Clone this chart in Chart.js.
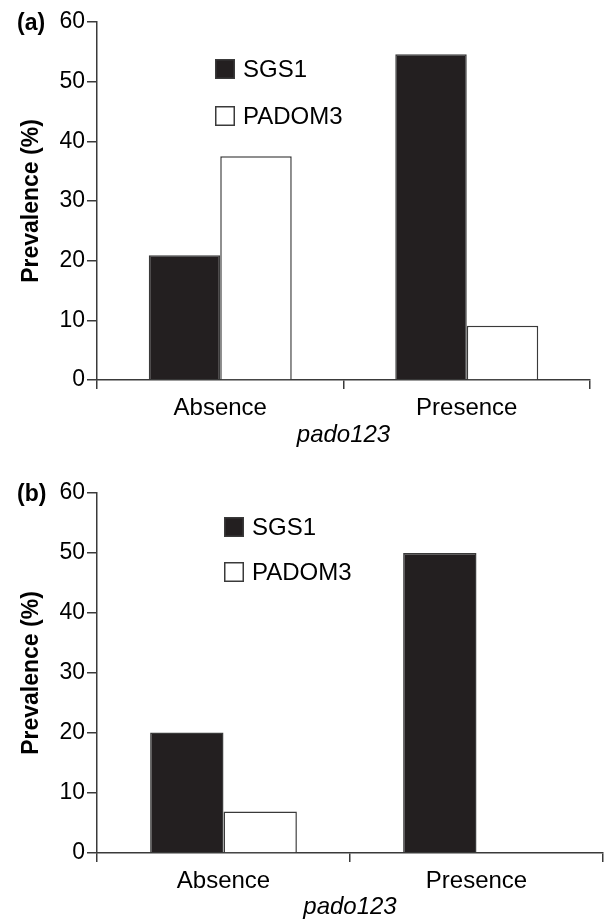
<!DOCTYPE html>
<html>
<head>
<meta charset="utf-8">
<script src="https://cdn.jsdelivr.net/npm/chart.js@4.4.0/dist/chart.umd.min.js"></script>
<style>
  html, body { margin: 0; padding: 0; background: #fff; }
  canvas { display: block; }
</style>
</head>
<body>
<canvas id="chartA" width="606" height="461"></canvas>
<canvas id="chartB" width="606" height="461"></canvas>
<script>
// data
const categories = ['Absence', 'Presence'];
const seriesNames = ['SGS1', 'PADOM3'];
const sgs1A = [20.9, 54.6];
const padom3A = [37.5, 9.1];
const sgs1B = [20.1, 50.0];
const padom3B = [6.9, 0];
const yTicks = [0, 10, 20, 30, 40, 50, 60];

const FONT = '"Liberation Sans", Arial, Helvetica, sans-serif';
const INK = '#231f20';
const LINE = '#3a3a3a';

// legend with boxes + panel letter, drawn at fixed spots
const panelDeco = {
    id: 'panelDeco',
    afterDraw(chart, args, opts) {
        const ctx = chart.ctx;
        ctx.save();
        ctx.font = 'bold 23px ' + FONT;
        ctx.fillStyle = '#000';
        ctx.textBaseline = 'middle';
        ctx.textAlign = 'left';
        ctx.fillText(opts.letter, opts.letterX, opts.letterY);

        ctx.font = '24px ' + FONT;
        chart.data.datasets.forEach((ds, i) => {
            const y = opts.y + i * opts.gap;
            ctx.fillStyle = ds.backgroundColor;
            ctx.fillRect(opts.x, y, 20, 20);
            ctx.strokeStyle = LINE;
            ctx.lineWidth = 1.5;
            ctx.strokeRect(opts.x + 0.75, y + 0.75, 18.5, 18.5);
            ctx.fillStyle = '#000';
            ctx.fillText(ds.label, opts.x + 28, y + 11);
        });
        ctx.restore();
    }
};

function drawPanel(canvasId, sgs1, padom3, geo) {
    const ctx = document.getElementById(canvasId).getContext('2d');
    return new Chart(ctx, {
        type: 'bar',
        data: {
            labels: categories,
            datasets: [{
                label: seriesNames[0],
                data: sgs1,
                backgroundColor: INK,
                borderColor: LINE,
                borderWidth: 1.5
            }, {
                label: seriesNames[1],
                data: padom3,
                backgroundColor: '#ffffff',
                borderColor: LINE,
                borderWidth: 1.5
            }]
        },
        options: {
            responsive: false,
            animation: false,
            categoryPercentage: 0.58,
            barPercentage: 1.0,
            layout: { padding: { top: geo.top, right: geo.right, left: 18, bottom: geo.bottom } },
            plugins: {
                legend: { display: false },
                tooltip: { enabled: false },
                panelDeco: geo.deco
            },
            scales: {
                x: {
                    grid: { drawOnChartArea: false, color: LINE, lineWidth: 1.5, tickLength: 9 },
                    border: { color: LINE, width: 1.5 },
                    ticks: { color: '#000', font: { family: FONT, size: 24 }, padding: 5 },
                    title: {
                        display: true,
                        text: 'pado123',
                        color: '#000',
                        font: { family: FONT, size: 24, style: 'italic' },
                        padding: { top: 0, bottom: 0 }
                    },
                    afterFit(scale) { scale.height = geo.xHeight; }
                },
                y: {
                    min: 0,
                    max: 60,
                    afterBuildTicks(scale) { scale.ticks = yTicks.map(v => ({ value: v })); },
                    grid: { drawOnChartArea: false, color: LINE, lineWidth: 1.5, tickLength: 10 },
                    border: { color: LINE, width: 1.5 },
                    ticks: { color: '#000', font: { family: FONT, size: 23 }, padding: 2 },
                    title: {
                        display: true,
                        text: 'Prevalence (%)',
                        color: '#000',
                        font: { family: FONT, size: 23, weight: 'bold' },
                        padding: { top: 0, bottom: 0 }
                    },
                    afterFit(scale) { scale.width = 79; }
                }
            }
        },
        plugins: [panelDeco]
    });
}

drawPanel('chartA', sgs1A, padom3A, {
    top: 22, right: 16, bottom: 11, xHeight: 70,
    deco: { letter: '(a)', letterX: 17, letterY: 24, x: 215, y: 59, gap: 47 }
});
drawPanel('chartB', sgs1B, padom3B, {
    top: 32, right: 3, bottom: 0, xHeight: 69,
    deco: { letter: '(b)', letterX: 17, letterY: 34, x: 224, y: 56, gap: 45 }
});
</script>
</body>
</html>
